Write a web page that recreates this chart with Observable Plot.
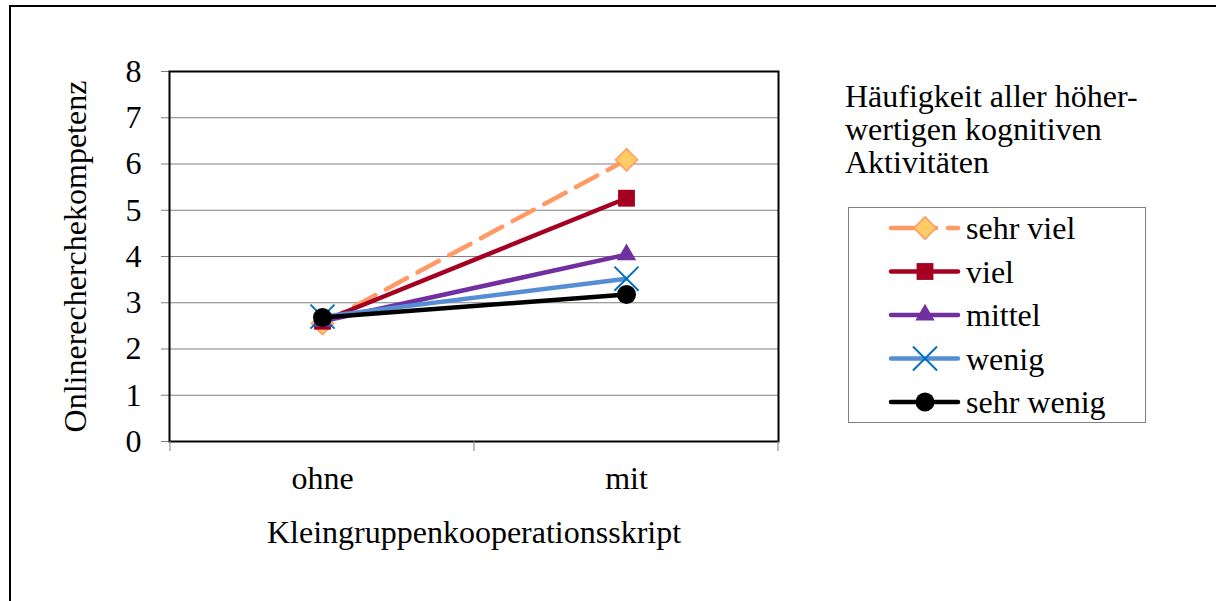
<!DOCTYPE html>
<html>
<head>
<meta charset="utf-8">
<script src="https://cdn.jsdelivr.net/npm/d3@7"></script>
<script src="https://cdn.jsdelivr.net/npm/@observablehq/plot@0.6"></script>
<style>
  html, body { margin: 0; padding: 0; background: #fff; width: 1216px; height: 601px; overflow: hidden; }
  #wrap { position: relative; width: 1216px; height: 601px; }
  #outer { position: absolute; left: 9px; top: 5px; width: 1300px; height: 700px; border-left: 2px solid #000; border-top: 2px solid #000; }
  #chart { position: absolute; left: 0; top: 0; }
  #ltitle { position: absolute; left: 845px; top: 80px; font-family: "Liberation Serif", serif; font-size: 32px; line-height: 33px; color: #000; white-space: nowrap; }
  #legend { position: absolute; left: 0; top: 0; }
</style>
</head>
<body>
<div id="wrap">
  <div id="outer"></div>
  <div id="chart"></div>
  <div id="ltitle">Häufigkeit aller höher-<br>wertigen kognitiven<br>Aktivitäten</div>
  <svg id="legend" width="1216" height="601"></svg>
</div>
<script>
const categories = ["ohne", "mit"];
const seriesNames = ["sehr viel", "viel", "mittel", "wenig", "sehr wenig"];
const sehrViel = [2.55, 6.09];
const viel = [2.6, 5.26];
const mittel = [2.6, 4.04];
const wenig = [2.7, 3.52];
const sehrWenig = [2.68, 3.18];
const yTicks = [0, 1, 2, 3, 4, 5, 6, 7, 8];
const xTitle = "Kleingruppenkooperationsskript";
const yTitle = "Onlinerecherchekompetenz";

const styles = {
  "sehr viel": {line: "#FF9966", dash: "24,12", symbol: "diamond2", fill: "#FFCC66", stroke: "#FF9966", r: 10, sw: 1.5},
  "viel": {line: "#A50021", dash: null, symbol: "square", fill: "#A50021", stroke: "none", r: 9.5, sw: 0},
  "mittel": {line: "#7030A0", dash: null, symbol: "triangle", fill: "#7030A0", stroke: "none", r: 7.2, sw: 0},
  "wenig": {line: "#558ED5", dash: null, symbol: "times", fill: "none", stroke: "#0070C0", r: 11, sw: 2},
  "sehr wenig": {line: "#000000", dash: null, symbol: "circle", fill: "#000", stroke: "none", r: 9.5, sw: 0}
};
const seriesValues = [sehrViel, viel, mittel, wenig, sehrWenig];
const data = [];
seriesNames.forEach((s, i) => categories.forEach((c, j) => data.push({series: s, cat: c, value: seriesValues[i][j]})));

const font = "Liberation Serif, serif";
const FS = 32;
const marks = [
  Plot.gridY(yTicks.filter(d => d > 0 && d < 8), {stroke: "#808080", strokeOpacity: 1, strokeWidth: 1}),
  Plot.axisY(yTicks, {tickSize: 8, tickPadding: 20, label: null, fontSize: FS, fontFamily: font, stroke: "#808080", color: "#000"}),
  Plot.frame({stroke: "#000", strokeWidth: 2}),
  Plot.text(categories, {x: d => d, frameAnchor: "bottom", dy: 47, fontSize: FS, fontFamily: font, fill: "#000"}),
  Plot.text([xTitle], {frameAnchor: "bottom", dy: 101, fontSize: FS, fontFamily: font, fill: "#000"}),
  Plot.text([yTitle], {frameAnchor: "left", textAnchor: "middle", rotate: -90, dx: -94, fontSize: FS, fontFamily: font, fill: "#000"})
];
seriesNames.forEach(s => {
  const st = styles[s];
  const d = data.filter(r => r.series === s);
  marks.push(Plot.line(d, {x: "cat", y: "value", stroke: st.line, strokeWidth: 4.5, strokeDasharray: st.dash, strokeLinecap: st.dash ? "round" : "butt"}));
  marks.push(Plot.dot(d, {x: "cat", y: "value", symbol: () => st.symbol, r: st.r, fill: st.fill, stroke: st.stroke, strokeWidth: st.sw}));
});

const chart = Plot.plot({
  width: 1216, height: 601,
  marginLeft: 169, marginRight: 438, marginTop: 71, marginBottom: 160,
  x: {domain: categories, type: "point", axis: null},
  y: {domain: [0, 8], axis: null},
  symbol: {type: "identity"},
  style: {background: "transparent", fontFamily: font},
  marks
});
document.getElementById("chart").appendChild(chart);

// x-axis tick marks at category boundaries, derived from the x scale
const xs = chart.scale("x");
const pos = categories.map(c => xs.apply(c));
const step = pos[1] - pos[0];
const bounds = [pos[0] - step / 2, (pos[0] + pos[1]) / 2, pos[1] + step / 2];
const ys = chart.scale("y");
const y0 = ys.apply(0);
const svg = d3.select(chart);
svg.append("g").selectAll("line").data(bounds).join("line")
  .attr("x1", d => d).attr("x2", d => d).attr("y1", y0).attr("y2", y0 + 10)
  .attr("stroke", "#808080").attr("stroke-width", 1);

// legend
const lg = d3.select("#legend");
lg.append("rect").attr("x", 848.5).attr("y", 207.5).attr("width", 297).attr("height", 215)
  .attr("fill", "#fff").attr("stroke", "#808080").attr("stroke-width", 1);
const symMap = {diamond2: d3.symbolDiamond2, square: d3.symbolSquare, triangle: d3.symbolTriangle, times: d3.symbolTimes, circle: d3.symbolCircle};
seriesNames.forEach((s, i) => {
  const st = styles[s];
  const cy = 228 + i * 43.5;
  const g = lg.append("g");
  if (st.dash) {
    g.append("line").attr("x1", 891).attr("x2", 936).attr("y1", cy).attr("y2", cy).attr("stroke", st.line).attr("stroke-width", 4.5).attr("stroke-linecap", "round");
    g.append("line").attr("x1", 948).attr("x2", 958).attr("y1", cy).attr("y2", cy).attr("stroke", st.line).attr("stroke-width", 4.5).attr("stroke-linecap", "round");
  } else {
    g.append("line").attr("x1", 891).attr("x2", 958).attr("y1", cy).attr("y2", cy).attr("stroke", st.line).attr("stroke-width", 4.5).attr("stroke-linecap", "round");
  }
  g.append("path").attr("transform", `translate(925,${cy})`)
    .attr("d", d3.symbol(symMap[st.symbol], Math.PI * st.r * st.r)())
    .attr("fill", st.fill).attr("stroke", st.stroke).attr("stroke-width", st.sw);
  g.append("text").attr("x", 966).attr("y", cy).attr("dy", "0.35em")
    .attr("font-family", font).attr("font-size", FS).attr("fill", "#000").text(s);
});
</script>
</body>
</html>
